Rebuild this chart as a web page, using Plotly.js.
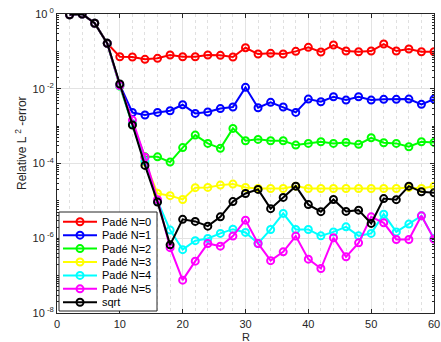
<!DOCTYPE html>
<html>
<head>
<meta charset="utf-8">
<script src="https://cdn.plot.ly/plotly-3.0.1.min.js"></script>
<style>html,body{margin:0;padding:0;background:#fff;}#chart{width:441px;height:342px;}</style>
</head>
<body>
<div id="chart"></div>
<script>
const xR = [2,4,6,8,10,12,14,16,18,20,22,24,26,28,30,32,34,36,38,40,42,44,46,48,50,52,54,56,58,60];

const padeN0 = [0.95,1.0,0.564,0.164,0.0719,0.0706,0.0612,0.0652,0.0798,0.0719,0.0719,0.0798,0.0784,0.0706,0.125,0.0849,0.0887,0.0849,0.100,0.128,0.0961,0.148,0.102,0.098,0.102,0.157,0.102,0.116,0.098,0.098];
const padeN1 = [0.95,1.0,0.564,0.164,0.0126,0.00231,0.00198,0.00233,0.00258,0.00373,0.00219,0.00238,0.00295,0.00324,0.0109,0.00310,0.00432,0.00324,0.00233,0.00530,0.00449,0.00611,0.00498,0.00611,0.00498,0.00520,0.00520,0.00530,0.00382,0.00530];
const padeN2 = [0.95,1.0,0.564,0.164,0.0118,0.00114,0.000151,0.000151,0.000109,0.000267,0.000576,0.000345,0.000254,0.000870,0.000405,0.000442,0.000405,0.000405,0.000311,0.000345,0.000381,0.000345,0.000367,0.000325,0.000488,0.000358,0.000345,0.000280,0.000381,0.000367];
const padeN3 = [0.95,1.0,0.564,0.164,0.0118,0.00110,0.000109,1.58e-5,1.38e-5,1.09e-5,2.26e-5,2.29e-5,2.64e-5,2.81e-5,2.29e-5,2.15e-5,2.15e-5,2.15e-5,2.48e-5,2.15e-5,2.15e-5,2.15e-5,2.15e-5,2.15e-5,2.15e-5,2.15e-5,2.15e-5,2.29e-5,2.15e-5,2.48e-5];
const padeN4 = [0.95,1.0,0.564,0.164,0.0118,0.00114,0.000116,9.84e-6,1.65e-6,4.95e-7,8.63e-7,9.88e-7,1.35e-6,1.75e-6,1.43e-6,7.26e-7,1.72e-6,4.61e-6,1.72e-6,1.72e-6,1.16e-6,1.48e-6,2.02e-6,1.16e-6,1.35e-6,4.42e-6,1.48e-6,2.39e-6,3.98e-6,9.88e-7];
const padeN5 = [0.95,1.0,0.564,0.164,0.0122,0.00145,0.000148,1.08e-5,5.6e-7,7.56e-8,2.44e-7,7.26e-7,6.14e-7,1.14e-6,3.05e-6,7.26e-7,2.51e-7,4.32e-7,1.14e-6,2.76e-7,1.55e-7,1.03e-6,3.18e-7,7.53e-7,3.74e-6,2.58e-6,9.29e-7,9.29e-7,3.98e-6,9.46e-7];
const sqrtErr = [0.95,1.0,0.564,0.164,0.0134,0.00107,8.9e-5,9.26e-6,6.65e-7,3.21e-6,2.82e-6,2.11e-6,3.74e-6,9.55e-6,1.58e-5,2.03e-5,6.2e-6,1.24e-5,2.48e-5,7.94e-6,5.15e-6,1.09e-5,5.22e-6,5.65e-6,2.49e-6,1.15e-5,1.08e-5,2.48e-5,1.75e-5,1.64e-5];

const seriesNames = ['Padé N=0','Padé N=1','Padé N=2','Padé N=3','Padé N=4','Padé N=5','sqrt'];
const seriesValues = [padeN0,padeN1,padeN2,padeN3,padeN4,padeN5,sqrtErr];
const seriesColors = ['#ff0000','#0000ff','#00ff00','#ffff00','#00ffff','#ff00ff','#000000'];

const xTickVals = [0,10,20,30,40,50,60];
const yTickVals = [1e-8,1e-6,1e-4,1e-2,1];
const yTickText = ['10<sup> -8</sup>','10<sup> -6</sup>','10<sup> -4</sup>','10<sup> -2</sup>','10<sup> 0</sup>'];
const xTitle = 'R';
const yTitle = 'Relative L <sup>2</sup> -error';

const yMinor = [];
for (let k = -8; k < 0; k++) for (let m = 1; m <= 9; m++) yMinor.push(m * Math.pow(10, k));

const traces = seriesNames.map((n, i) => ({
  x: xR, y: seriesValues[i], name: n, type: 'scatter', mode: 'lines+markers',
  line: {color: seriesColors[i], width: 2},
  marker: {symbol: 'circle-open', size: 7, color: seriesColors[i], line: {width: 2, color: seriesColors[i]}},
  showlegend: false
}));

const L = 57, T = 14, W = 377, H = 299;
const px = X => (X - L) / W;
const py = Y => (T + H - Y) / H;
const FONT = 'Liberation Sans, Arial, sans-serif';
const shapes = [];
const annotations = [];
shapes.push({type:'rect', xref:'paper', yref:'paper', x0:px(59), x1:px(157), y0:py(311), y1:py(212),
  fillcolor:'#ffffff', line:{color:'#262626', width:1}, layer:'above'});
seriesNames.forEach((n, i) => {
  const yy = 221.7 + i * 13.43;
  shapes.push({type:'line', xref:'paper', yref:'paper', x0:px(63), x1:px(97), y0:py(yy), y1:py(yy),
    line:{color:seriesColors[i], width:2}, layer:'above'});
  shapes.push({type:'circle', xref:'paper', yref:'paper', x0:px(80-3.5), x1:px(80+3.5), y0:py(yy+3.5), y1:py(yy-3.5),
    fillcolor:'rgba(0,0,0,0)', line:{color:seriesColors[i], width:2}, layer:'above'});
  annotations.push({xref:'paper', yref:'paper', x:px(99.5), y:py(yy), text:n, showarrow:false,
    xanchor:'left', yanchor:'middle', font:{family:FONT, size:11, color:'#000'}});
});
// axis titles
annotations.push({xref:'paper', yref:'paper', x:px(21), y:py(143), text:yTitle, textangle:-90, showarrow:false,
  xanchor:'center', yanchor:'middle', font:{family:FONT, size:12, color:'#262626'}});
annotations.push({xref:'paper', yref:'paper', x:px(245.5), y:py(344), text:xTitle, showarrow:false, borderpad:0,
  xanchor:'center', yanchor:'bottom', font:{family:FONT, size:11, color:'#262626'}});

const axisFont = {family:FONT, size:11, color:'#262626'};
const layout = {
  width: 441, height: 342,
  margin: {l: L, r: 441 - L - W, t: T, b: 342 - T - H, pad: 0},
  paper_bgcolor: '#ffffff', plot_bgcolor: '#ffffff',
  showlegend: false,
  font: axisFont,
  xaxis: {
    range: [0, 60], tickmode: 'array', tickvals: xTickVals, ticktext: xTickVals.map(String),
    ticks: 'inside', ticklen: 4, tickcolor: '#262626', tickwidth: 1, ticklabelstandoff: 1,
    showline: true, linecolor: '#262626', linewidth: 1, mirror: 'ticks',
    showgrid: true, gridcolor: '#e3e3e3', gridwidth: 1, zeroline: false,
    tickfont: axisFont,
    minor: {dtick: 2, tick0: 0, showgrid: true, gridcolor: '#e0e0e0', griddash: 'dot', gridwidth: 1, ticks: ''},
    automargin: false
  },
  yaxis: {
    type: 'log', range: [-8, 0], tickmode: 'array', tickvals: yTickVals, ticktext: yTickText,
    ticks: 'inside', ticklen: 4, tickcolor: '#262626', tickwidth: 1,
    showline: true, linecolor: '#262626', linewidth: 1, mirror: 'ticks',
    showgrid: true, gridcolor: '#e3e3e3', gridwidth: 1, zeroline: false,
    tickfont: axisFont,
    minor: {tickmode: 'array', tickvals: yMinor, ticks: 'inside', ticklen: 2, tickcolor: '#262626', showgrid: false},
    automargin: false
  },
  shapes: shapes,
  annotations: annotations
};

Plotly.newPlot('chart', traces, layout, {staticPlot: true, displayModeBar: false});
</script>
</body>
</html>
